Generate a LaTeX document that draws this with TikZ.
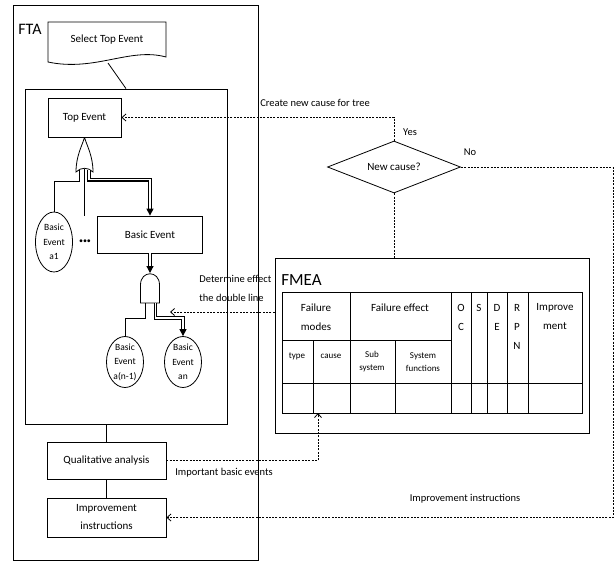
\documentclass[tikz,border=0pt]{standalone}
\usepackage{fontspec}
\setmainfont{Carlito}
\usetikzlibrary{arrows.meta,shapes.geometric,positioning}
\tikzset{
  partframe/.style={ % big outline of the FTA / FMEA part
    draw, thick, rectangle, inner sep=0pt
  },
  stepbox/.style={ % a box of the FTA flow
    draw, thick, rectangle, align=center, inner sep=2pt,
    font=\fontsize{11}{18}\selectfont
  },
  basic/.style={ % image of a basic event
    draw, thick, ellipse, inner sep=-2pt, align=center,
    minimum width=37pt, font=\fontsize{9.5}{14.5}\selectfont
  },
  link/.style={ % dotted link between FTA and FMEA
    thick, dash pattern=on 2pt off 1.3pt,
    -{Straight Barb[length=4pt,width=7pt]}
  },
  dline/.style={ % the double line
    double=white, double distance=1.5pt, line width=1.2pt,
    -{Triangle[length=7pt,width=7pt]}
  },
  lbl/.style={font=\fontsize{10.5}{19}\selectfont, inner sep=0pt, align=left},
  hcell/.style={font=\fontsize{11}{19}\selectfont, align=center, inner sep=0pt},
  scell/.style={font=\fontsize{9}{13}\selectfont, align=center, inner sep=0pt}
}

\begin{document}
\begin{tikzpicture}[x=1pt, y=-1pt, thick]
  \useasboundingbox (0,0) rectangle (616,566);

  % FTA part
  \node[partframe, minimum width=245pt, minimum height=555pt] (fta) at (135.5,282.5) {};
  \node[anchor=west, font=\fontsize{16}{18}\selectfont, inner sep=0pt] (fta_label) at (18,29) {FTA};
  \draw (48,22) -- (166,22) -- (166,57) .. controls (130,47) and (95,72) .. (48,62) -- cycle;
  \node[font=\fontsize{11}{13}\selectfont] (select) at (107,40) {Select Top Event};
  \coordinate (select_b) at (108,63);
  \node[partframe, minimum width=202pt, minimum height=335pt] (tree) at (126,256.5) {};
  \draw (select_b) -- (tree.north);

  \node[stepbox, minimum width=73pt, minimum height=39pt] (top_ev) at (84.5,117.5) {Top Event};
  % OR gate
  \draw (top_ev.south) .. controls (87,146) and (93,156) .. (93,172)
        .. controls (88,167) and (81,167) .. (76,172)
        .. controls (76,156) and (82,146) .. (top_ev.south);
  \coordinate (or_l) at (79,170);
  \coordinate (or_m) at (84,168.5);
  \coordinate (or_r) at (89,169.5);
  \node[basic, minimum height=60pt] (a1) at (54,242) {Basic\\Event\\a1};
  \node[inner sep=0pt, font=\fontsize{8}{8}\selectfont] (dots) at (85,242) {\textbullet\textbullet\textbullet};
  \node[stepbox, minimum width=105pt, minimum height=37pt] (be) at (150,234.5) {Basic Event};
  \draw (or_l) |- ([yshift=30pt]a1.north) -- (a1.north);
  \draw (or_m) -- (or_m |- be.north);
  \draw[dline] (or_r) |- ([yshift=36pt]be.north) -- (be.north);

  % AND gate
  \coordinate (and_top) at (150,273);
  \draw[dline] (be.south) -- (and_top);
  \draw (140.5,303) -- (140.5,285) .. controls (140.5,270) and (159.5,270) .. (159.5,285) -- (159.5,303) -- cycle;
  \coordinate (and_l) at (145,303);
  \coordinate (and_r) at (155.5,303);
  \node[basic, minimum height=51pt] (an1) at (125,362) {Basic\\Event\\a(n-1)};
  \node[basic, minimum height=51pt] (an) at (183,362) {Basic\\Event\\an};
  \draw (and_l) |- ([yshift=18pt]an1.north) -- (an1.north);
  \draw[dline] (and_r) |- ([yshift=18pt]an.north) -- (an.north);

  \node[stepbox, minimum width=119pt, minimum height=37pt] (qual) at (106.5,460.5) {Qualitative analysis};
  \node[stepbox, minimum width=119pt, minimum height=39pt] (impr) at (106.5,517.5) {Improvement\\instructions};
  \draw (tree.south -| qual.north) -- (qual.north);
  \draw (qual) -- (impr);

  % FMEA part
  \node[partframe, minimum width=314pt, minimum height=175pt] (fmea) at (432,345.5) {};
  \node[anchor=west, font=\fontsize{17}{19}\selectfont, inner sep=0pt] (fmea_label) at (281,280) {FMEA};
  \draw (282,292) rectangle (582,413);
  \draw (282,340) -- (451,340);
  \draw (282,383) -- (582,383);
  \foreach \cx in {350,451,471,487,507,528} \draw (\cx,292) -- (\cx,413);
  \foreach \cx in {313,395} \draw (\cx,340) -- (\cx,413);
  \node[hcell] (fm_head) at (316,317) {Failure\\modes};
  \node[hcell] (fe_head) at (400,308) {Failure effect};
  \node[hcell] (oc_head) at (461,317) {O\\C};
  \node[hcell] (s_head) at (479,308) {S};
  \node[hcell] (de_head) at (497,317) {D\\E};
  \node[hcell] (rpn_head) at (517,327) {R\\P\\N};
  \node[hcell] (imp_head) at (555,317) {Improve\\ment};
  \node[scell] (type_cell) at (297,356) {type};
  \node[scell] (cause_head) at (331,356) {cause};
  \node[scell] (sub_cell) at (372,362) {Sub\\system};
  \node[scell] (sys_cell) at (423,362) {System\\functions};

  % decision
  \node[draw, diamond, aspect=2.6, minimum width=133pt, minimum height=52pt, inner sep=0pt,
        font=\fontsize{11}{13}\selectfont] (newc) at (394,167) {New cause?};
  \draw[link] (newc.north) |- (top_ev.east);
  \node[lbl] (create_lbl) at (315,103) {Create new cause for tree};
  \node[lbl] (yes_lbl) at (410,132) {Yes};
  \node[lbl] (no_lbl) at (470,152) {No};
  \draw[link, -] (newc.south) -- (newc.south |- fmea.north);
  \coordinate (rim) at (613,517.5);
  \draw[link] (newc.east) -| (rim) -- (impr.east);
  \node[lbl] (instr_lbl) at (465,499) {Improvement instructions};
  \coordinate (cause_cell) at (318,413);
  \draw[link] (qual.east) -| (cause_cell);
  \node[lbl] (basic_lbl) at (224,473) {Important basic events};
  \coordinate (dline_pt) at (170,312);
  \draw[link] (fmea.west |- dline_pt) -- (dline_pt);
  \node[lbl, anchor=west] (det_lbl) at (199,288) {Determine effect\\the double line};
\end{tikzpicture}
\end{document}
